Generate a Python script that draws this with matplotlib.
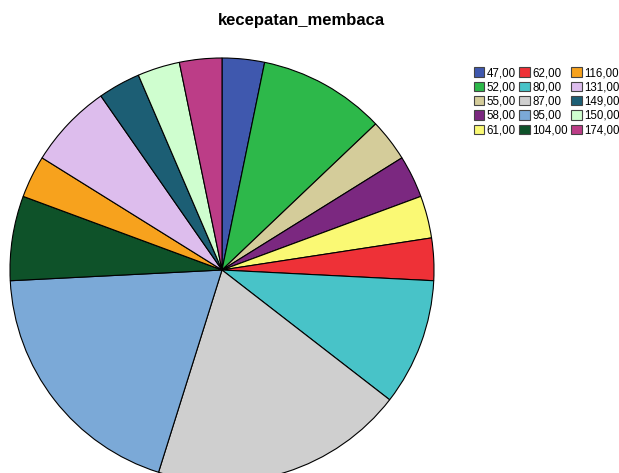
import matplotlib
matplotlib.use("Agg")
import matplotlib.pyplot as plt
from matplotlib.patches import Patch

plt.rcParams['font.family'] = ['Liberation Sans', 'DejaVu Sans']

labels = ["47,00", "52,00", "55,00", "58,00", "61,00", "62,00", "80,00", "87,00",
          "95,00", "104,00", "116,00", "131,00", "149,00", "150,00", "174,00"]
counts = [1, 3, 1, 1, 1, 1, 3, 6, 6, 2, 1, 2, 1, 1, 1]
colors = ["#3F58AE", "#2DB84A", "#D4CC9A", "#7B2880", "#FAF974", "#EE3137",
          "#48C3C8", "#CFCFCF", "#7BA9D7", "#0E5229", "#F7A21D", "#DDBDED",
          "#1C5E74", "#CFFECF", "#BC3D87"]

W, H = 619, 473
fig = plt.figure(figsize=(W / 100, H / 100), dpi=100)
cx, cy, r = 222, 270, 212
ax = fig.add_axes([(cx - r) / W, (H - cy - r) / H, 2 * r / W, 2 * r / H])
ax.pie(counts, colors=colors, startangle=90, counterclock=False,
       wedgeprops=dict(edgecolor='black', linewidth=0.8))
ax.set_xlim(-1, 1)
ax.set_ylim(-1, 1)
ax.axis('off')

fig.text(301 / W, 1 - 20 / H, "kecepatan_membaca", ha='center', va='center',
         fontsize=12, fontweight='bold')

handles = [Patch(facecolor=c, edgecolor='#444444', linewidth=0.8) for c in colors]
fig.legend(handles, labels, ncol=3, loc='upper left',
           bbox_to_anchor=(466 / W, 1 - 59 / H), frameon=False,
           fontsize=8.3, handlelength=0.9, handleheight=0.9,
           handletextpad=0.2, columnspacing=0.3, labelspacing=0.2,
           borderpad=0.2)

fig.savefig("out.png", dpi=100)
